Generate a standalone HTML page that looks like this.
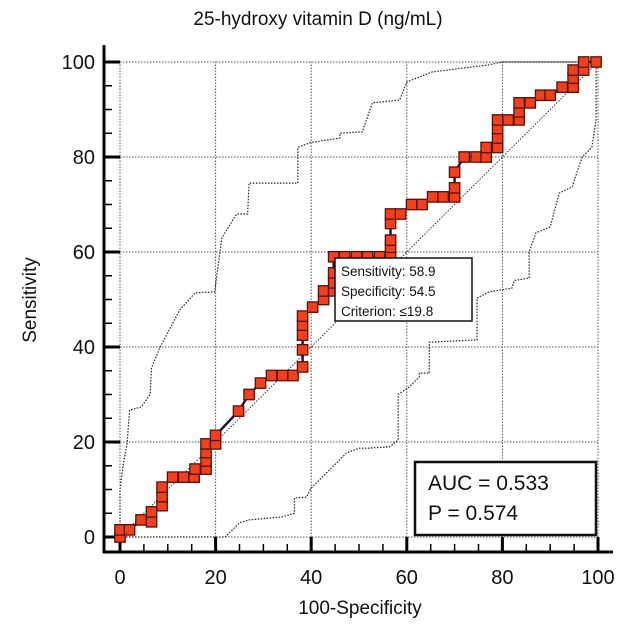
<!DOCTYPE html>
<html><head><meta charset="utf-8"><style>
html,body{margin:0;padding:0;background:#fff;}
svg{display:block;font-family:"Liberation Sans",Arial,sans-serif;}
</style></head><body>
<svg id="chart" width="630" height="633" viewBox="0 0 630 633">
<text x="318" y="25" font-size="19" text-anchor="middle" fill="#111">25-hydroxy vitamin D (ng/mL)</text>
<g id="grid"></g>
<g id="axes"></g>
<g id="bands"></g>
<g id="roc"></g>
<g>
<rect x="335" y="258" width="137" height="63" fill="#fff" stroke="#111" stroke-width="1.5"/>
<text x="341" y="276" font-size="13.5" fill="#111">Sensitivity: 58.9</text>
<text x="341" y="296" font-size="13.5" fill="#111">Specificity: 54.5</text>
<text x="341" y="316" font-size="13.5" fill="#111">Criterion: ≤19.8</text>
</g>
<g>
<rect x="415" y="462" width="181" height="73" fill="#fff" stroke="#111" stroke-width="2.5"/>
<text x="428" y="490" font-size="21" fill="#111">AUC = 0.533</text>
<text x="428" y="520" font-size="21" fill="#111">P = 0.574</text>
</g>
<text x="360" y="614" font-size="19" text-anchor="middle" fill="#111">100-Specificity</text>
<text x="0" y="0" font-size="19" text-anchor="middle" fill="#111" transform="translate(36,300) rotate(-90)">Sensitivity</text>
</svg>
<script>
const xTicks=[0,20,40,60,80,100];
const yTicks=[0,20,40,60,80,100];
const rocX=[0,0,2,4.4,6.6,6.6,8.8,8.8,8.8,11,13.3,15.5,15.7,18,18,18,18,20,20,24.8,27,29.4,31.7,34,36.2,38.2,38.2,38.2,38.2,38.2,40.3,42.6,42.6,44.7,44.7,44.7,44.7,47,49.5,51.8,54.3,56.6,56.6,56.6,56.6,56.6,58.7,61,63.2,65.4,67.6,70,70,70,72,74.5,76.6,76.6,79,79,79,79,81.2,83.5,83.5,83.5,85.8,88,90,92.5,94.8,94.8,94.8,97,97,99.6];
const rocY=[0,1.5,1.5,3.6,3.2,5.3,6.6,8.5,10.5,12.6,12.6,12.6,14.3,14.3,16,17.8,19.6,19.6,21.4,26.5,30,32.4,34,34,34,35.8,39.4,42.5,44.6,46.5,48.4,50,51.8,51.8,53.5,55.6,59,59,59,59,59,59,61,62.5,66,68,68,70,70,71.6,71.6,71.6,73.5,76.8,80,80,80,82,82,84,86,87.8,87.8,87.8,89.5,91.4,91.4,93,93,94.7,94.7,96.6,98.3,98.3,100,100];
const upperX=[0,0,0.6,1.5,2,4.5,6.3,6.6,8.4,12.5,15.7,19.8,21.3,24.4,26.7,27,37.2,37.2,39.7,46,46,50.7,52.8,58.5,60,65.3,71.6,77.2,80,88,100];
const upperY=[0,10,14.7,19.8,26.7,27.4,30,35.6,40,47.8,51.4,51.6,63,68,68,74.5,74.5,82,83,84,85,85.3,91.4,92,95.8,97.9,98.7,99.4,100,100,100];
const lowerX=[0,22,25,27,33.8,36.5,36.5,39,40,47.4,50,52,56.4,58.2,58.2,60.5,62.6,62.6,64.7,64.7,74.7,74.7,77.2,82,82.5,85.6,85.6,87,90,91.9,94.6,95.6,96.7,98.7,99.6,99.6,100];
const lowerY=[0,0,3,3.6,4.2,5,8.2,8.4,10.3,17.7,18.7,18.7,19,20.4,30,31.6,33.7,34.5,34.5,41,41.5,50.3,51.6,52.4,54,54.5,60,64,65.3,72.4,73.7,76.8,80,82,87.8,100,100];
const NS='http://www.w3.org/2000/svg';
const sx=v=>120+v*4.78, sy=v=>537-v*4.75;
function mk(tag,attrs,parent){const e=document.createElementNS(NS,tag);for(const k in attrs)e.setAttribute(k,attrs[k]);parent.appendChild(e);return e;}
const grid=document.getElementById('grid'),axes=document.getElementById('axes'),bands=document.getElementById('bands'),roc=document.getElementById('roc');
xTicks.forEach(t=>{const l=mk('line',{x1:sx(t),x2:sx(t),y1:sy(0),y2:sy(100),stroke:'#555','stroke-width':1,'stroke-dasharray':'1.5,1.5'},grid);

});
yTicks.forEach(t=>{const l=mk('line',{x1:sx(0),x2:sx(100),y1:sy(t),y2:sy(t),stroke:'#555','stroke-width':1,'stroke-dasharray':'1.5,1.5'},grid);

});
mk('line',{x1:sx(0),y1:sy(0),x2:sx(100),y2:sy(100),stroke:'#333','stroke-width':1,'stroke-dasharray':'1.5,1.5'},grid);
mk('line',{x1:104,y1:45,x2:104,y2:553,stroke:'#000','stroke-width':3},axes);
mk('line',{x1:103,y1:552,x2:613,y2:552,stroke:'#000','stroke-width':3},axes);
for(let v=0;v<=100;v+=5){const maj=v%20===0;
mk('line',{x1:104,x2:maj?120:112,y1:sy(v),y2:sy(v),stroke:'#000','stroke-width':maj?3:1.5},axes);
mk('line',{x1:sx(v),x2:sx(v),y1:552,y2:maj?537:544,stroke:'#000','stroke-width':maj?3:1.5},axes);}
xTicks.forEach(t=>{const e=mk('text',{x:sx(t),y:584,'font-size':20,'text-anchor':'middle',fill:'#111'},axes);e.textContent=t;

});
yTicks.forEach(t=>{const e=mk('text',{x:95,y:sy(t)+7,'font-size':20,'text-anchor':'end',fill:'#111'},axes);e.textContent=t;

});
function pts(X,Y){return X.map((x,i)=>sx(x)+','+sy(Y[i])).join(' ');}
const ub=mk('polyline',{points:pts(upperX,upperY),fill:'none',stroke:'#222','stroke-width':1.2,'stroke-dasharray':'1.5,1.5'},bands);


const lb=mk('polyline',{points:pts(lowerX,lowerY),fill:'none',stroke:'#222','stroke-width':1.2,'stroke-dasharray':'1.5,1.5'},bands);


const rl=mk('polyline',{points:pts(rocX,rocY),fill:'none',stroke:'#1a1a40','stroke-width':2.5},roc);


rocX.forEach((x,i)=>{const r=mk('rect',{x:sx(x)-5.2,y:sy(rocY[i])-5.2,width:10.4,height:10.4,fill:'#f0401e',stroke:'#5a1008','stroke-width':1.3},roc);

});
</script>
</body></html>
